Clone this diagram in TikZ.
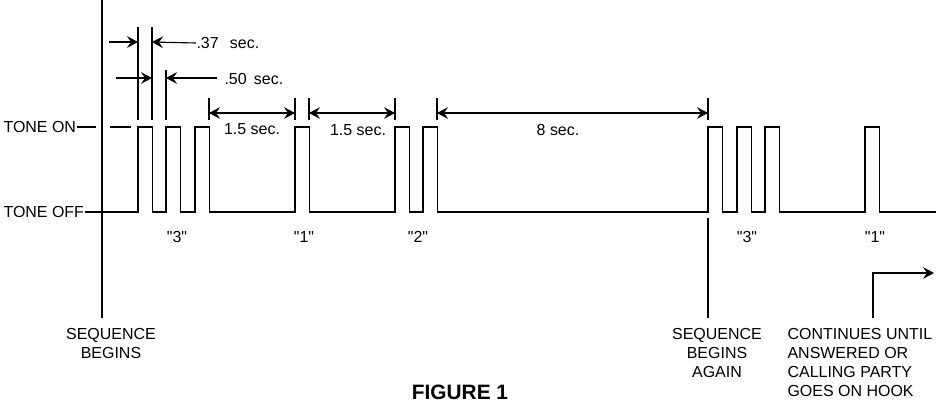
\documentclass[tikz,border=0pt]{standalone}
\usepackage{fontspec}
\setmainfont{Liberation Sans}
\usetikzlibrary{arrows.meta}

\begin{document}
\begin{tikzpicture}[x=0.72pt,y=-0.72pt,line width=0.8pt,
  dim/.style={-{Stealth[length=8pt,width=8.5pt,inset=3pt]}},
  dimboth/.style={{Stealth[length=8pt,width=8.5pt,inset=3pt]}-{Stealth[length=8pt,width=8.5pt,inset=3pt]}},
  lbl/.style={font=\fontsize{11.5}{13.7}\selectfont,inner sep=0pt},
  note/.style={lbl,align=center,anchor=north}]
\useasboundingbox (0,0) rectangle (936,402);
% The levels
\node[lbl,anchor=west] (on) at (3,127) {TONE ON};
\node[lbl,anchor=west] (off) at (3,212) {TONE OFF};
\draw (on.east) -- (96,127);
\draw (110,127) -- (131,127);
% The pulses
\draw (off.east) \foreach \p in {138,166,195,295,395,423,708,737,765,865}
  { -- (\p,212) -- (\p,127) -- ++(14.3,0) -- ++(0,85) } -- (936,212);
% The start marks
\draw (102,0) -- (102,318);
\draw (708,218) -- (708,318);
% The extension lines
\draw (138,27) -- (138,120);
\draw (152,27) -- (152,120);
\draw (166,70) -- (166,120);
\foreach \x in {209,295,309,395,437,708}
  \draw (\x,98) -- (\x,120);
% The dimensions
\node[lbl,anchor=west] (t37) at (196,43) {.37\hspace{0.7em}sec.};
\draw[dim] (109,42) -- (138,42);
\draw[dim] (t37.west) -- (152,42);
\node[lbl,anchor=west] (t50) at (224,79) {.50\hspace{0.45em}sec.};
\draw[dim] (116,78) -- (152,78);
\draw[dim] (217,78) -- (166,78);
\draw[dimboth] (209,113) -- (295,113);
\node[lbl] (t15a) at (252,129) {1.5 sec.};
\draw[dimboth] (309,113) -- (395,113);
\node[lbl] (t15b) at (358,130) {1.5 sec.};
\draw[dimboth] (437,113) -- (708,113);
\node[lbl] (t8) at (558,130) {8 sec.};
% The digits
\node[lbl] (d3a) at (177,237) {\textquotedbl3\textquotedbl};
\node[lbl] (d1a) at (304,237) {\textquotedbl1\textquotedbl};
\node[lbl] (d2) at (418,237) {\textquotedbl2\textquotedbl};
\node[lbl] (d3b) at (747,237) {\textquotedbl3\textquotedbl};
\node[lbl] (d1b) at (875,237) {\textquotedbl1\textquotedbl};
% The notes
\node[note] (begins) at (111,328) {SEQUENCE\\BEGINS};
\node[note] (again) at (717,328) {SEQUENCE\\BEGINS\\AGAIN};
\node[lbl,align=left,anchor=north west] (cont) at (787,328)
  {CONTINUES UNTIL\\ANSWERED OR\\CALLING PARTY\\GOES ON HOOK};
\draw[-{Stealth[length=8pt,width=8.5pt,inset=3pt]}] (873,318) -- (873,273) -- (934,273);
\node[font=\fontsize{15}{18}\selectfont\bfseries,inner sep=0pt] (fig) at (460,392) {FIGURE 1};
\end{tikzpicture}
\end{document}
